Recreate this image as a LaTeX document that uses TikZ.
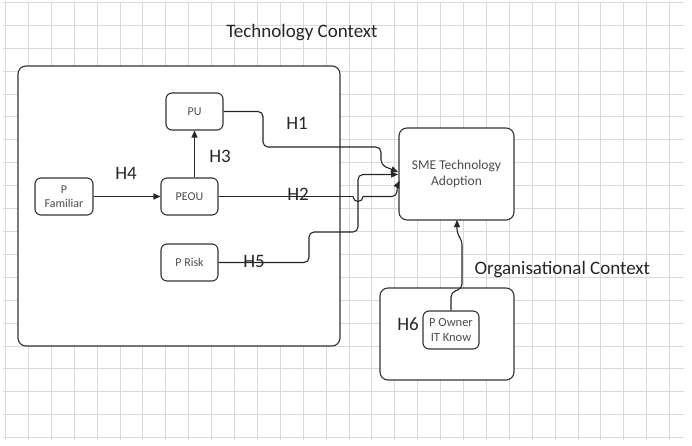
\documentclass[tikz,border=0pt]{standalone}
\usepackage{fontspec}
\setmainfont{Carlito}
\usetikzlibrary{arrows.meta}
\begin{document}
\begin{tikzpicture}[x=1pt,y=-1pt,
  gridline/.style={draw=black!15,line width=1pt},
  container/.style={draw=black!80,line width=1.1pt,rounded corners=8pt,fill=white},
  smallbox/.style={draw=black!80,line width=1.1pt,rounded corners=6pt,fill=white,align=center,font=\fontsize{12}{14}\selectfont,text=black!70,inner sep=0pt},
  hyp/.style={font=\fontsize{19}{21}\selectfont,text=black!85},
  title/.style={font=\fontsize{19}{22}\selectfont,text=black!85},
  conn/.style={draw=black!85,line width=1.1pt,rounded corners=5pt},
  arr/.style={conn,-{Triangle[length=7pt,width=6pt]}}]
\useasboundingbox (0,0) rectangle (692,446);
\fill[white] (0,0) rectangle (692,446);
% grid
\foreach \k in {0,...,19} \draw[gridline] (3,2.5+22.9*\k) -- (684,2.5+22.9*\k);
\foreach \k in {0,...,29} \draw[gridline] (5.5+22.9*\k,2) -- (5.5+22.9*\k,440);
% containers
\draw[container] (18,66) rectangle (340,346);
\draw[container] (380,288) rectangle (514,380);
\node[title] (ttech) at (302,33) {Technology Context};
\node[title,anchor=west] (torg) at (471,270) {Organisational Context};
% nodes
\node[smallbox,minimum width=57pt,minimum height=37pt] (pu) at (194.5,111.5) {PU};
\node[smallbox,minimum width=57pt,minimum height=37pt] (peou) at (189.5,196.5) {PEOU};
\node[smallbox,minimum width=58pt,minimum height=37pt] (pfam) at (64,196.5) {P\\Familiar};
\node[smallbox,minimum width=57pt,minimum height=37pt] (prisk) at (189.5,262.5) {P Risk};
\node[smallbox,minimum width=115pt,minimum height=92pt,rounded corners=8pt,font=\fontsize{13.5}{16}\selectfont] (sme) at (456.5,174) {SME Technology\\Adoption};
\node[smallbox,minimum width=56pt,minimum height=38pt,font=\fontsize{12.5}{15}\selectfont] (own) at (451,330) {P Owner\\IT Know};
% coordinates
\coordinate (h1a) at (398,172);
\coordinate (h5a) at (398,174.5);
\coordinate (h2a) at (399.5,181);
\coordinate (h6a) at (457,220);
% connectors
\draw[arr] (pfam.east) -- (peou.west);
\draw[arr] (peou.north -| pu.south) -- (pu.south);
\draw[arr] (pu.east) -- (263,111.5) -- (263,147) -- (381,147) -- (381,165) [rounded corners=0pt] -- (h1a);
\draw[arr] (prisk.east) -- (309,262.5) -- (309,232) -- (358,232) -- (358,174.5) -- (h5a);
\draw[conn] (peou.east) -- (353,196.5);
\draw[conn,rounded corners=0pt] (353,196.5) arc[start angle=180,end angle=0,radius=5];
\draw[arr] (363,196.5) -- (397,196.5) -- (397,186) [rounded corners=0pt] -- (h2a);
\draw[arr] (own.north) -- (451,292) -- (462,289) -- (462,240) -- (457,234) [rounded corners=0pt] -- (h6a);
% labels
\node[hyp] (lh1) at (297,123) {H1};
\node[hyp] (lh2) at (298,194.5) {H2};
\node[hyp] (lh3) at (220,156) {H3};
\node[hyp] (lh4) at (126,173) {H4};
\node[hyp] (lh5) at (254,261) {H5};
\node[hyp] (lh6) at (408,324) {H6};
\end{tikzpicture}
\end{document}
